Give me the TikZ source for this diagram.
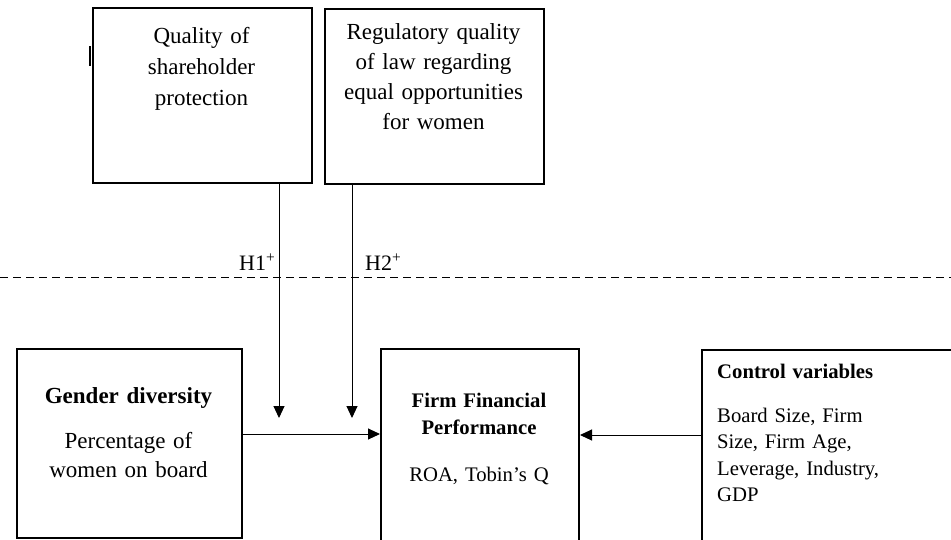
\documentclass[tikz,border=0pt]{standalone}
\usepackage{fontspec}
\setmainfont{Liberation Serif}
\usetikzlibrary{arrows.meta}
\begin{document}
\begin{tikzpicture}[x=1pt,y=-1pt,
  box/.style={draw, line width=2pt, anchor=north west, inner sep=0pt},
  txt/.style={inner sep=0pt, anchor=base, align=center},
  big/.style={font=\fontsize{23}{30.5}\selectfont},
  sml/.style={font=\fontsize{20.7}{26.5}\selectfont},
  arr/.style={line width=1pt, -{Triangle[length=12pt,width=11pt]}},
  sepline/.style={line width=1pt, dash pattern=on 8pt off 5pt},
  hyp/.style={anchor=base west, inner sep=0pt, font=\fontsize{22}{26}\selectfont},
]
\useasboundingbox (0,0) rectangle (951,539);

% boxes
\node[box, minimum width=219pt, minimum height=175pt] (q) at (92,7) {};
\node[box, minimum width=219pt, minimum height=175pt] (r) at (324,8) {};
\node[box, minimum width=225pt, minimum height=189pt] (g) at (16,348) {};
\node[box, minimum width=198pt, minimum height=230pt] (f) at (380,348) {};
\node[box, minimum width=290pt, minimum height=230pt] (c) at (701,349) {};

% texts
\node[txt, big, text width=210pt, font=\fontsize{23}{31}\selectfont] (qt) at (201.5,43)
  {Quality of\\ shareholder\\ protection};
\node[txt, big, text width=215pt, font=\fontsize{23}{30}\selectfont] (rt) at (433.5,39)
  {Regulatory quality\\ of law regarding\\ equal opportunities\\ for women};
\node[txt, text width=215pt, font=\fontsize{23}{29}\selectfont] (gt) at (128.5,403)
  {\textbf{Gender diversity}\\[16pt] Percentage of\\ women on board};
\node[txt, text width=190pt, font=\fontsize{20.7}{27}\selectfont] (ft) at (479,407)
  {\textbf{Firm Financial}\\ \textbf{Performance}\\[20pt] ROA, Tobin's Q};
\node[inner sep=0pt, anchor=base west, align=left, text width=225pt, sml] (ct) at (717,378)
  {\textbf{Control variables}\\[17.5pt] Board Size, Firm\\ Size, Firm Age,\\ Leverage, Industry,\\ GDP};

% hypothesis labels
\node[hyp] (h1) at (239,270) {H1\textsuperscript{+}};
\node[hyp] (h2) at (365,270) {H2\textsuperscript{+}};

% dashed separator
\coordinate (dl) at (0,277);
\coordinate (dr) at (951,277);
\draw[sepline] (dl) -- (dr);

% stray mark
\coordinate (m1) at (90,46);
\coordinate (m2) at (90,66);
\draw[line width=1.5pt] (m1) -- (m2);

% arrows
\coordinate (t1) at (279,418);
\coordinate (t2) at (352,418);
\draw[arr] (q.south -| t1) -- (t1);
\draw[arr] (r.south -| t2) -- (t2);
\coordinate (hy) at (0,434);
\draw[arr] (g.east |- hy) -- (f.west |- hy);
\coordinate (cy) at (0,435);
\draw[arr] (c.west |- cy) -- (f.east |- cy);
\end{tikzpicture}
\end{document}
